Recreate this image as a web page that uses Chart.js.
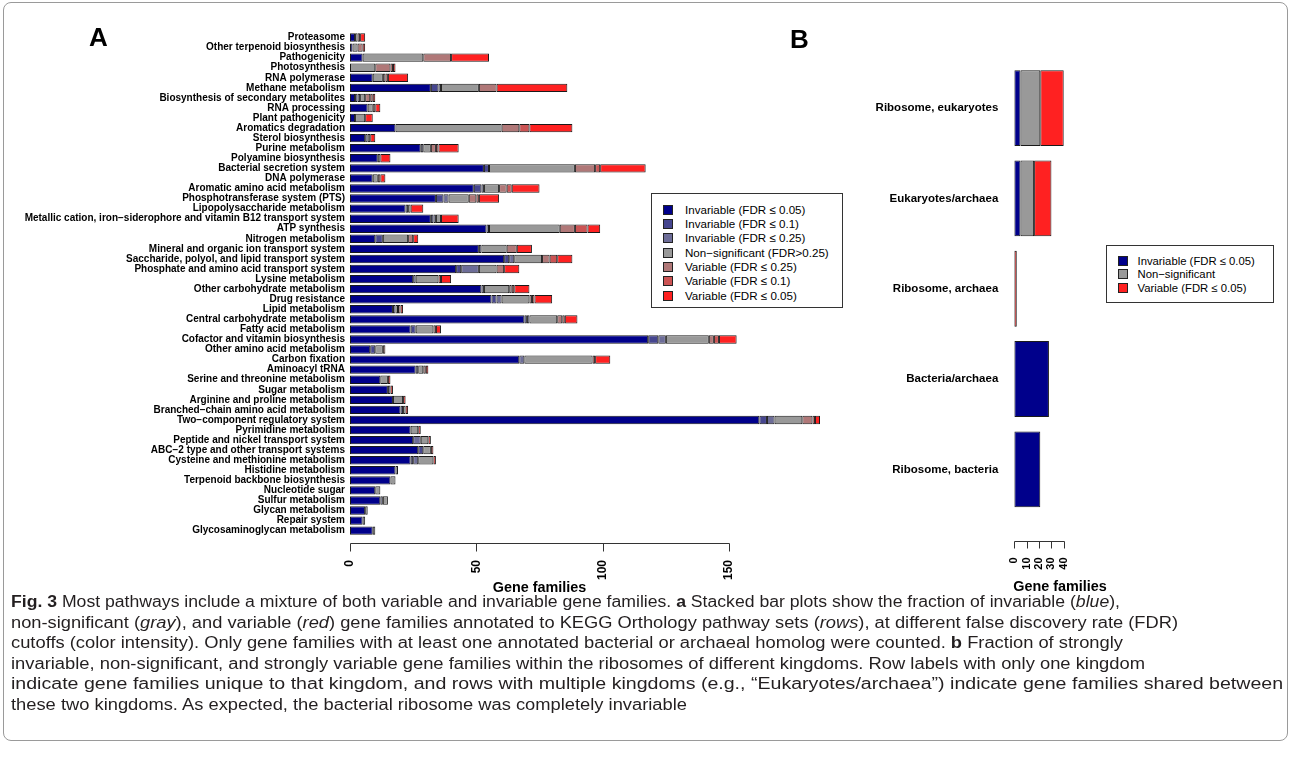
<!DOCTYPE html>
<html>
<head>
<meta charset="utf-8">
<script src="https://cdn.jsdelivr.net/npm/chart.js@4.4.1/dist/chart.umd.min.js"></script>
<style>
  body { margin: 0; width: 1291px; height: 777px; background: #fff; position: relative; overflow: hidden;
         font-family: 'Liberation Sans', Arial, sans-serif; color: #000; }
  .frame { position: absolute; left: 3px; top: 2px; width: 1283px; height: 737px; border: 1px solid #9a9a9a; border-radius: 8px; }
  canvas { position: absolute; top: 0; }
  #chartA { left: 0; }
  #chartB { left: 780px; }
  .panel { position: absolute; font-weight: bold; font-size: 26px; line-height: 26px; }
  .axis-title { position: absolute; font-weight: bold; font-size: 14.4px; line-height: 14px; transform: translateX(-50%); white-space: nowrap; }
  .legend { position: absolute; border: 1px solid #333; background: #fff; }
  .legend .item { position: absolute; white-space: nowrap; line-height: 12px; height: 12px; }
  .legend .sw { position: absolute; width: 8px; height: 8px; border: 1px solid #222; }
  #legendA { font-size: 11.6px; }
  #legendB { font-size: 11.3px; }
  .caption { position: absolute; left: 11px; top: 592px; font-family: 'Liberation Sans Narrow', 'Liberation Sans', sans-serif;
             font-size: 16px; line-height: 20.6px; color: #231f20; }
  .caption .ln { white-space: nowrap; transform-origin: 0 0; width: max-content; }
</style>
</head>
<body>
<div class="frame"></div>
<canvas id="chartA" width="870" height="600"></canvas>
<canvas id="chartB" width="340" height="600"></canvas>
<div class="panel" style="left:89px;top:24px;">A</div>
<div class="panel" style="left:790px;top:26px;">B</div>
<div class="axis-title" style="left:539.5px;top:580px;">Gene families</div>
<div class="axis-title" style="left:1060px;top:579px;">Gene families</div>
<div class="legend" id="legendA" style="left:651px;top:193px;width:190px;height:113px;"></div>
<div class="legend" id="legendB" style="left:1106px;top:245px;width:166px;height:56px;"></div>
<div class="caption">
  <div class="ln" data-w="1109"><b>Fig. 3</b> Most pathways include a mixture of both variable and invariable gene families. <b>a</b> Stacked bar plots show the fraction of invariable (<i>blue</i>),</div>
  <div class="ln" data-w="1167">non-significant (<i>gray</i>), and variable (<i>red</i>) gene families annotated to KEGG Orthology pathway sets (<i>rows</i>), at different false discovery rate (FDR)</div>
  <div class="ln" data-w="1112">cutoffs (color intensity). Only gene families with at least one annotated bacterial or archaeal homolog were counted. <b>b</b> Fraction of strongly</div>
  <div class="ln" data-w="1134">invariable, non-significant, and strongly variable gene families within the ribosomes of different kingdoms. Row labels with only one kingdom</div>
  <div class="ln" data-w="1272">indicate gene families unique to that kingdom, and rows with multiple kingdoms (e.g., “Eukaryotes/archaea”) indicate gene families shared between</div>
  <div class="ln" data-w="676">these two kingdoms. As expected, the bacterial ribosome was completely invariable</div>
</div>
<script>
// Panel A: KEGG pathway sets, gene family counts per FDR class
const pathways = [
  'Proteasome', 'Other terpenoid biosynthesis', 'Pathogenicity', 'Photosynthesis', 'RNA polymerase',
  'Methane metabolism', 'Biosynthesis of secondary metabolites', 'RNA processing', 'Plant pathogenicity',
  'Aromatics degradation', 'Sterol biosynthesis', 'Purine metabolism', 'Polyamine biosynthesis',
  'Bacterial secretion system', 'DNA polymerase', 'Aromatic amino acid metabolism',
  'Phosphotransferase system (PTS)', 'Lipopolysaccharide metabolism',
  'Metallic cation, iron\u2212siderophore and vitamin B12 transport system', 'ATP synthesis',
  'Nitrogen metabolism', 'Mineral and organic ion transport system',
  'Saccharide, polyol, and lipid transport system', 'Phosphate and amino acid transport system',
  'Lysine metabolism', 'Other carbohydrate metabolism', 'Drug resistance', 'Lipid metabolism',
  'Central carbohydrate metabolism', 'Fatty acid metabolism', 'Cofactor and vitamin biosynthesis',
  'Other amino acid metabolism', 'Carbon fixation', 'Aminoacyl tRNA', 'Serine and threonine metabolism',
  'Sugar metabolism', 'Arginine and proline metabolism', 'Branched\u2212chain amino acid metabolism',
  'Two\u2212component regulatory system', 'Pyrimidine metabolism', 'Peptide and nickel transport system',
  'ABC\u22122 type and other transport systems', 'Cysteine and methionine metabolism',
  'Histidine metabolism', 'Terpenoid backbone biosynthesis', 'Nucleotide sugar', 'Sulfur metabolism',
  'Glycan metabolism', 'Repair system', 'Glycosaminoglycan metabolism'
];
const invariable05 = [2,1,5,0,9, 32,2,7,2,18, 6,28,11,53,9, 49,34,22,32,54, 10,51,61,42,25, 52,56,17,69,24, 118,8,67,26,12, 15,17,20,162,24, 25,27,24,18,16, 10,12,6,5,9];
const invariable10 = [0,0,0,0,0, 3,1,0,0,0, 0,0,0,2,0, 3,3,0,1,0, 3,0,2,2,0, 0,2,0,1,2, 4,2,0,0,0, 0,0,1,3,0, 0,2,1,0,0, 0,0,0,0,0];
const invariable25 = [0,0,0,0,0, 1,1,0,0,0, 1,1,0,0,0, 1,2,1,1,1, 0,1,2,7,1, 1,2,1,1,0, 3,0,2,1,0, 1,0,0,3,0, 3,0,2,0,0, 0,1,0,0,0];
const nonSignificant = [1,2,24,10,4, 15,2,2,4,42, 1,3,1,34,2, 6,8,1,2,28, 10,10,11,7,9, 10,11,1,11,7, 17,3,27,2,3, 0,4,1,11,3, 3,3,6,1,2, 2,2,1,1,1];
const variable25 = [1,2,11,6,1, 7,2,1,0,7, 0,2,0,8,1, 3,3,0,0,6, 2,4,3,3,0, 1,1,1,2,1, 2,1,0,1,0, 0,0,0,4,0, 0,0,0,0,0, 0,0,0,0,0];
const variable10 = [0,0,0,1,1, 0,1,0,0,4, 0,1,0,2,0, 2,1,0,0,5, 0,0,3,0,1, 1,1,0,1,0, 2,0,1,0,0, 0,0,0,1,0, 0,1,0,0,0, 0,0,0,0,0];
const variable05 = [2,1,15,1,8, 28,1,2,3,17, 2,8,4,18,2, 11,8,5,7,5, 2,6,6,6,4, 6,7,1,5,2, 7,0,6,1,1, 1,1,1,2,1, 1,0,1,0,0, 0,0,0,0,0];
const seriesNamesA = [
  'Invariable (FDR \u2264 0.05)', 'Invariable (FDR \u2264 0.1)', 'Invariable (FDR \u2264 0.25)',
  'Non\u2212significant (FDR>0.25)', 'Variable (FDR \u2264 0.25)', 'Variable (FDR \u2264 0.1)', 'Variable (FDR \u2264 0.05)'
];
const seriesColorsA = ['#00008b', '#46468f', '#6d6d98', '#999999', '#b07878', '#cc5353', '#ff2121'];
const axisTicksA = [0, 50, 100, 150];

// Panel B: ribosome gene families by kingdom
const kingdoms = ['Ribosome, eukaryotes', 'Eukaryotes/archaea', 'Ribosome, archaea', 'Bacteria/archaea', 'Ribosome, bacteria'];
const ribInvariable = [5, 5, 0, 28, 21];
const ribNonSignificant = [16, 11, 0, 0, 0];
const ribVariable = [19, 14, 2, 0, 0];
const seriesNamesB = ['Invariable (FDR \u2264 0.05)', 'Non\u2212significant', 'Variable (FDR \u2264 0.05)'];
const seriesColorsB = ['#00008b', '#999999', '#ff2121'];
const axisTicksB = [0, 10, 20, 30, 40];

const FONT = "'Liberation Sans', Arial, sans-serif";
Chart.defaults.color = '#000';
Chart.defaults.font.family = FONT;

// R-style axis: line only spans the ticks and sits a little below the bars
const detachedAxis = {
  id: 'detachedAxis',
  afterDraw(chart, args, opts) {
    const scale = chart.scales.x;
    const ctx = chart.ctx;
    const y = Math.round(chart.chartArea.bottom + opts.gap) + 0.5;
    const xs = opts.ticks.map(v => Math.round(scale.getPixelForValue(v)) + 0.5);
    ctx.save();
    ctx.strokeStyle = '#333';
    ctx.lineWidth = 1;
    ctx.beginPath();
    ctx.moveTo(xs[0], y);
    ctx.lineTo(xs[xs.length - 1], y);
    xs.forEach(x => { ctx.moveTo(x, y); ctx.lineTo(x, y + opts.len); });
    ctx.stroke();
    ctx.restore();
  }
};

// empty segments are skipped so they leave no sliver
function makeDatasets(series, names, colors, barPct) {
  return series.map((d, i) => ({
    label: names[i], data: d.map(v => v === 0 ? null : v), backgroundColor: colors[i],
    borderColor: '#1a1a1a', borderWidth: 1, borderSkipped: false, inflateAmount: 0,
    barPercentage: barPct, categoryPercentage: 1
  }));
}

function barOptions(cfg) {
  return {
    indexAxis: 'y', responsive: false, animation: false, events: [],
    devicePixelRatio: 1,
    layout: { padding: { left: 0, right: cfg.padRight, top: cfg.padTop, bottom: 0 } },
    plugins: {
      legend: { display: false }, tooltip: { enabled: false },
      detachedAxis: { gap: cfg.axisGap, len: cfg.tickLen, ticks: cfg.ticks }
    },
    scales: {
      y: {
        stacked: true, grid: { display: false, drawTicks: false }, border: { display: false },
        ticks: { autoSkip: false, padding: cfg.labelPad, font: { size: cfg.labelSize, weight: 'bold' } },
        afterFit: s => { s.width = cfg.yWidth; }
      },
      x: {
        stacked: true, min: 0, max: cfg.max,
        grid: { display: false, drawTicks: false }, border: { display: false },
        ticks: {
          stepSize: cfg.step, minRotation: 90, maxRotation: 90, padding: cfg.tickPad,
          font: { size: cfg.tickSize, weight: 'bold' },
          callback: v => cfg.ticks.includes(v) ? v : null
        },
        afterFit: s => { s.height = cfg.xHeight; }
      }
    }
  };
}

new Chart(document.getElementById('chartA'), {
  type: 'bar',
  data: {
    labels: pathways,
    datasets: makeDatasets(
      [invariable05, invariable10, invariable25, nonSignificant, variable25, variable10, variable05],
      seriesNamesA, seriesColorsA, 0.833)
  },
  options: barOptions({
    padRight: 14.6, padTop: 32.5, yWidth: 350, xHeight: 64.3, max: 200, step: 50,
    ticks: axisTicksA, axisGap: 7.6, tickLen: 8, labelPad: 5, labelSize: 10, tickSize: 12, tickPad: 24.3
  }),
  plugins: [detachedAxis]
});

new Chart(document.getElementById('chartB'), {
  type: 'bar',
  data: {
    labels: kingdoms,
    datasets: makeDatasets([ribInvariable, ribNonSignificant, ribVariable], seriesNamesB, seriesColorsB, 0.84)
  },
  options: barOptions({
    padRight: 12.7, padTop: 62.9, yWidth: 234.3, xHeight: 85.5, max: 40, step: 10,
    ticks: axisTicksB, axisGap: 26.5, tickLen: 7, labelPad: 16, labelSize: 11.5, tickSize: 11, tickPad: 43
  }),
  plugins: [detachedAxis]
});

function buildLegend(el, names, colors, first, step, swX, textX) {
  names.forEach((name, i) => {
    const cy = first + i * step;
    const sw = document.createElement('div');
    sw.className = 'sw';
    sw.style.cssText = `left:${swX}px;top:${cy - 5}px;background:${colors[i]}`;
    const item = document.createElement('div');
    item.className = 'item';
    item.style.cssText = `left:${textX}px;top:${cy - 6}px`;
    item.textContent = name;
    el.appendChild(sw);
    el.appendChild(item);
  });
}
buildLegend(document.getElementById('legendA'), seriesNamesA, seriesColorsA, 15.7, 14.33, 11, 33);
buildLegend(document.getElementById('legendB'), seriesNamesB, seriesColorsB, 14.5, 13.7, 10.5, 30.5);

// squeeze each caption line to the measured width of the reference
document.fonts.ready.then(() => {
  document.querySelectorAll('.caption .ln').forEach(ln => {
    const w = ln.getBoundingClientRect().width;
    ln.style.transform = `scaleX(${(+ln.dataset.w / w).toFixed(4)})`;
  });
});
</script>
</body>
</html>
